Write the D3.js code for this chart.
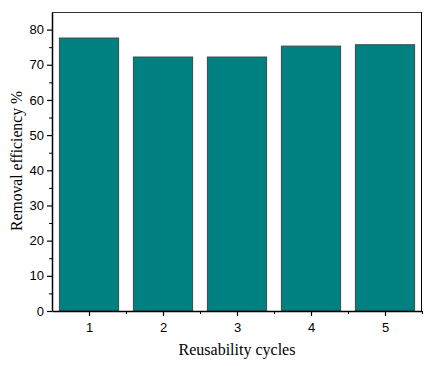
<!DOCTYPE html>
<html><head><meta charset="utf-8">
<script src="https://cdn.jsdelivr.net/npm/d3@7"></script>
<style>body{margin:0;background:#fff}svg{display:block}</style>
</head><body>
<script>
const categories = ["1","2","3","4","5"];
const values = [77.6, 72.2, 72.2, 75.3, 75.7];
const yTicks = [0,10,20,30,40,50,60,70,80];
const xTitle = "Reusability cycles";
const yTitle = "Removal efficiency %";

const W = 436, H = 366;
const m = {left:52, top:12, right:14, bottom:55};
const svg = d3.select("body").append("svg").attr("width",W).attr("height",H);
const x0 = m.left, x1 = W - m.right, y0 = H - m.bottom, y1 = m.top;

const x = d3.scaleLinear().domain([0.5, 5.5]).range([x0, x1]);
const y = d3.scaleLinear().domain([0, 85]).range([y0, y1]);
const bw = (x(2) - x(1)) * 0.8;

// frame top/right
svg.append("line").attr("x1",x0).attr("x2",x1).attr("y1",y1+0.5).attr("y2",y1+0.5).attr("stroke","#333").attr("stroke-width",1);
svg.append("line").attr("x1",x1-0.5).attr("x2",x1-0.5).attr("y1",y1).attr("y2",y0).attr("stroke","#000").attr("stroke-width",1);

svg.selectAll("rect.bar").data(values).join("rect").attr("class","bar")
  .attr("x",(d,i)=>x(i+1)-bw/2).attr("width",bw)
  .attr("y",d=>y(d)).attr("height",d=>y(0)-y(d))
  .attr("fill","#008080").attr("stroke","#3a4a4a").attr("stroke-width",1);

const font = "Liberation Sans, Arial, sans-serif";
// y axis
const ya = svg.append("g").attr("transform",`translate(${x0},0)`)
  .call(d3.axisLeft(y).tickValues(yTicks).tickSize(5).tickSizeOuter(0));
ya.select(".domain").attr("stroke-width",1.5);
ya.selectAll("text").attr("font-family",font).attr("font-size",13).attr("fill","#000");
ya.selectAll("line").attr("stroke-width",1.2);
svg.append("g").attr("transform",`translate(${x0},0)`)
  .call(d3.axisLeft(y).tickValues(d3.range(5,85,10)).tickSize(3).tickFormat(""))
  .call(g=>g.select(".domain").remove());

// x axis
const xa = svg.append("g").attr("transform",`translate(0,${y0})`)
  .call(d3.axisBottom(x).tickValues([1,2,3,4,5]).tickFormat((d,i)=>categories[i]).tickSize(5).tickSizeOuter(0));
xa.select(".domain").attr("stroke-width",1.5);
xa.selectAll("text").attr("font-family",font).attr("font-size",13).attr("fill","#000").attr("dy","1em");
xa.selectAll("line").attr("stroke-width",1.2);
svg.append("g").attr("transform",`translate(0,${y0})`)
  .call(d3.axisBottom(x).tickValues([1.5,2.5,3.5,4.5,5.5]).tickSize(3).tickFormat(""))
  .call(g=>g.select(".domain").remove());

svg.append("text").attr("x",(x0+x1)/2).attr("y",355).attr("text-anchor","middle")
  .attr("font-family","Liberation Serif, Times New Roman, serif").attr("font-size",16).text(xTitle);
svg.append("text").attr("transform",`translate(22,161) rotate(-90)`).attr("text-anchor","middle")
  .attr("font-family","Liberation Serif, Times New Roman, serif").attr("font-size",15.7).text(yTitle);
</script>
</body></html>
